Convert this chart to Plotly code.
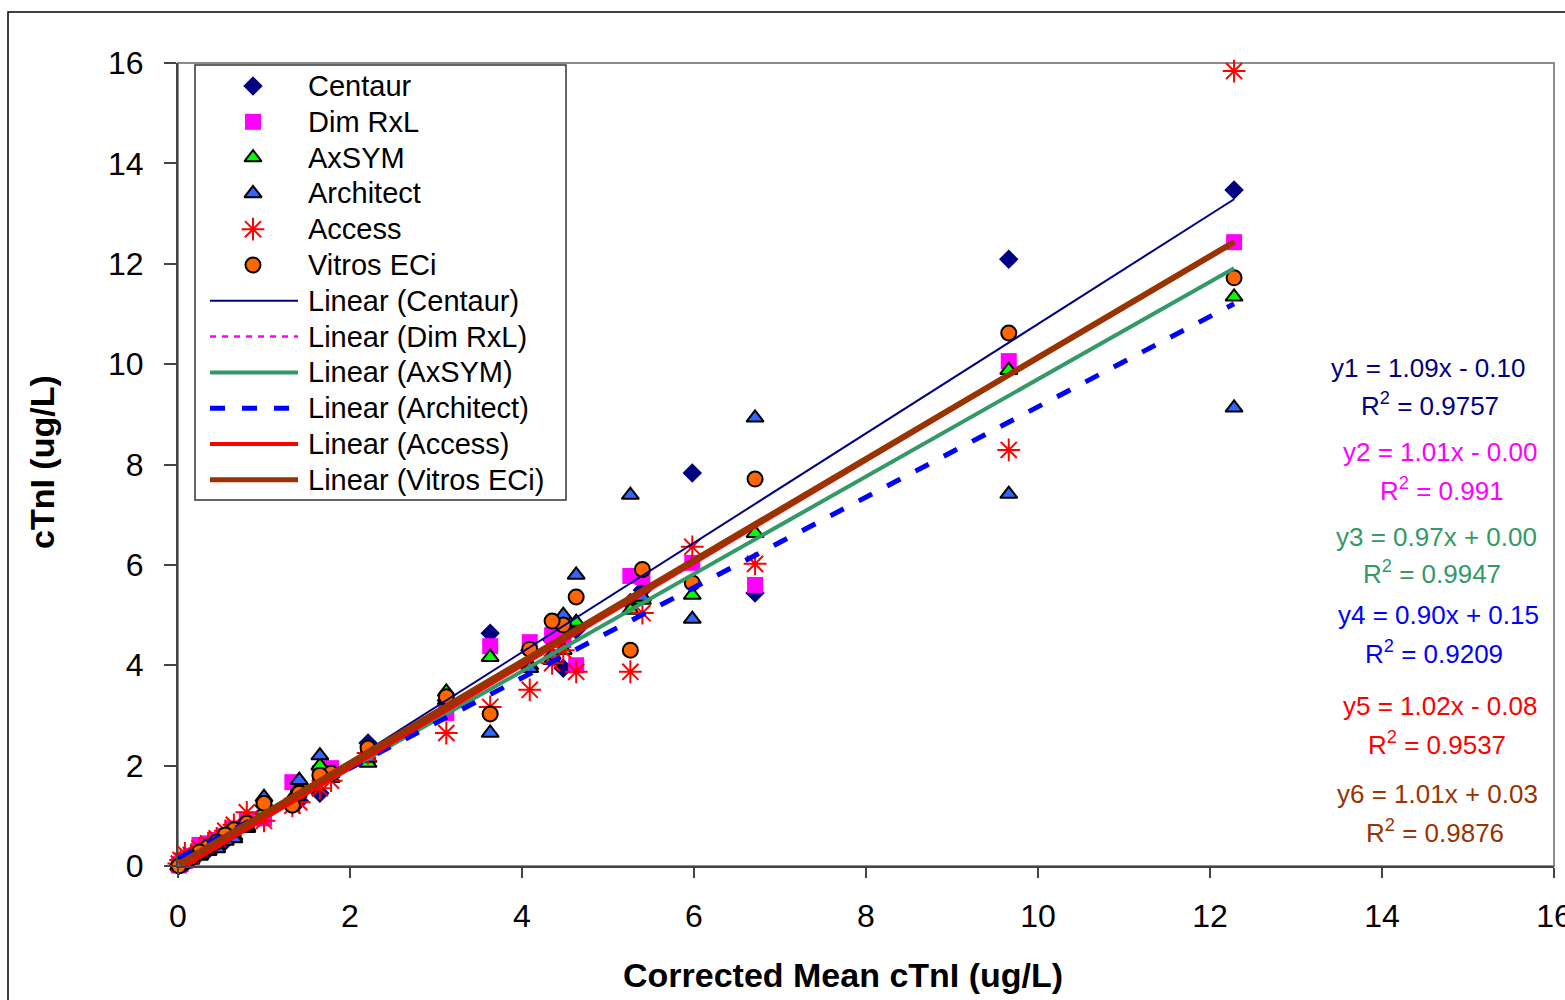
import math
import plotly.graph_objects as go

# ---------------- data ----------------
corrected_mean = [12.28, 9.66, 6.71, 5.98, 5.40, 5.26, 4.63, 4.48, 4.35, 4.09,
                  3.63, 3.12, 2.21, 1.78, 1.65, 1.41, 1.33, 1.00, 0.80, 0.65,
                  0.55, 0.45, 0.35, 0.25, 0.15, 0.08, 0.03, 0.01]

centaur   = [13.47, 12.09, 5.44, 7.83, 5.50, 5.25, 4.70, 3.94, 4.50, 4.30,
             4.64, 3.30, 2.45, 1.90, 1.45, 1.30, 1.25, 1.20, 0.85, 0.70,
             0.50, 0.45, 0.32, 0.25, 0.15, 0.10, 0.05, 0.02]
dim_rxl   = [12.43, 10.06, 5.60, 6.04, 5.76, 5.78, 4.00, 4.50, 4.60, 4.46,
             4.38, 3.05, 2.20, 1.95, 1.85, 1.50, 1.67, 0.95, 0.90, 0.75,
             0.60, 0.52, 0.45, 0.42, 0.20, 0.10, 0.04, 0.01]
axsym     = [11.34, 9.88, 6.63, 5.40, 5.30, 5.10, 4.86, 4.30, 4.10, 4.00,
             4.16, 3.47, 2.05, 1.85, 2.00, 1.55, 1.35, 1.10, 0.75, 0.60,
             0.55, 0.40, 0.30, 0.20, 0.12, 0.06, 0.02, 0.00]
architect = [9.13, 7.41, 8.93, 4.92, 5.36, 7.39, 5.80, 5.00, 4.20, 3.94,
             2.65, 3.30, 2.15, 1.75, 2.20, 1.71, 1.30, 1.37, 0.78, 0.55,
             0.50, 0.35, 0.30, 0.22, 0.15, 0.12, 0.05, 0.01]
access    = [15.84, 8.29, 6.02, 6.36, 5.04, 3.87, 3.87, 4.30, 4.04, 3.51,
             3.17, 2.65, 2.25, 1.70, 1.55, 1.27, 1.20, 0.90, 1.07, 0.82,
             0.70, 0.55, 0.45, 0.35, 0.22, 0.25, 0.12, 0.05]
vitros    = [11.72, 10.62, 7.71, 5.64, 5.91, 4.30, 5.36, 4.80, 4.88, 4.32,
             3.03, 3.37, 2.35, 1.85, 1.81, 1.45, 1.21, 1.25, 0.85, 0.72,
             0.62, 0.48, 0.38, 0.28, 0.16, 0.08, 0.02, 0.00]

series_names = ["Centaur", "Dim RxL", "AxSYM", "Architect", "Access", "Vitros ECi"]
series_values = [centaur, dim_rxl, axsym, architect, access, vitros]

# trendline equations as printed on the chart
slopes = [1.09, 1.01, 0.97, 0.90, 1.02, 1.01]
intercepts = [-0.10, -0.0, 0.0, 0.15, -0.08, 0.03]
r_squared = ["0.9757", "0.991", "0.9947", "0.9209", "0.9537", "0.9876"]

x_ticks = [0, 2, 4, 6, 8, 10, 12, 14, 16]
y_ticks = [0, 2, 4, 6, 8, 10, 12, 14, 16]

# ---------------- styles / layout ----------------
FONT = "Arial, 'Liberation Sans', sans-serif"
W, H = 1565, 1000
PL, PR, PT, PB = 178, 1554, 63, 866          # plot-area pixel edges
PW, PH = PR - PL, PB - PT

def u(px):   # pixel x -> paper x
    return (px - PL) / PW

def v(py):   # pixel y -> paper y
    return (PB - py) / PH

marker_styles = [
    dict(symbol="diamond", size=15, color="#000080", line=dict(width=0)),
    dict(symbol="square", size=16, color="#FF00FF", line=dict(width=0)),
    dict(symbol="triangle-up", size=15, color="#00FF00", line=dict(width=2, color="black")),
    dict(symbol="triangle-up", size=15, color="#3366FF", line=dict(width=2, color="black")),
    dict(symbol="asterisk-open", size=19, color="#FF0000", line=dict(width=2, color="#FF0000")),
    dict(symbol="circle", size=15, color="#FF6600", line=dict(width=2, color="black")),
]
line_styles = [
    dict(color="#000080", width=2, dash="solid"),
    dict(color="#FF00FF", width=2.5, dash="6px,6px"),
    dict(color="#339966", width=4, dash="solid"),
    dict(color="#0000FF", width=5, dash="15px,17px"),
    dict(color="#FF0000", width=4, dash="solid"),
    dict(color="#993300", width=6, dash="solid"),
]
eq_colors = ["#000080", "#FF00FF", "#339966", "#0000FF", "#FF0000", "#993300"]
eq_pos = [(14.53, 9.92, 14.56, 9.20), (14.67, 8.25, 14.70, 7.51),
          (14.63, 6.55, 14.58, 5.84), (14.66, 5.00, 14.60, 4.26),
          (14.67, 3.19, 14.64, 2.45), (14.64, 1.43, 14.62, 0.68)]

fig = go.Figure()

# data markers
for name, vals, ms in zip(series_names, series_values, marker_styles):
    fig.add_trace(go.Scatter(x=corrected_mean, y=vals, mode="markers", name=name,
                             marker=ms, cliponaxis=False, showlegend=False))

# linear trendlines over the data range
xmin, xmax = min(corrected_mean), max(corrected_mean)
for name, m, b, ls in zip(series_names, slopes, intercepts, line_styles):
    xs = [xmin, xmax]
    fig.add_trace(go.Scatter(x=xs, y=[m * val + b for val in xs], mode="lines",
                             name=f"Linear ({name})", line=ls, cliponaxis=False,
                             showlegend=False))

# ---------------- legend (drawn as a key box like the original) ----------------
LEG_L, LEG_R, LEG_T, LEG_B = 195, 566, 65, 500
ROW0, ROW_H = 86, 35.8
SYM_X, LINE_X0, LINE_X1, TEXT_X = 253, 210, 298, 306
legend_labels = series_names + [f"Linear ({n})" for n in series_names]

shapes = [
    # plot-area border (top/right light gray)
    dict(type="rect", xref="paper", yref="paper", x0=0, x1=1, y0=0, y1=1,
         line=dict(color="#8c8c8c", width=2), layer="below"),
    # outer chart frame
    dict(type="rect", xref="paper", yref="paper",
         x0=u(8), x1=u(1580), y0=v(1015), y1=v(12),
         line=dict(color="black", width=1.5), layer="below"),
    # legend box
    dict(type="rect", xref="paper", yref="paper",
         x0=u(LEG_L), x1=u(LEG_R), y0=v(LEG_B), y1=v(LEG_T),
         line=dict(color="#333333", width=1.5), fillcolor="white", layer="below"),
]
for i, ls in enumerate(line_styles):
    ry = v(ROW0 + ROW_H * (6 + i))
    shapes.append(dict(type="line", xref="paper", yref="paper",
                       x0=u(LINE_X0), x1=u(LINE_X1), y0=ry, y1=ry,
                       line=dict(color=ls["color"], width=min(ls["width"], 5),
                                 dash=ls["dash"])))

for i, ms in enumerate(marker_styles):
    fig.add_trace(go.Scatter(x=[u(SYM_X)], y=[v(ROW0 + ROW_H * i)], mode="markers",
                             marker=ms, xaxis="x2", yaxis="y2", showlegend=False,
                             hoverinfo="skip", cliponaxis=False))

annotations = []
for i, lab in enumerate(legend_labels):
    annotations.append(dict(x=u(TEXT_X), y=v(ROW0 + ROW_H * i), xref="paper", yref="paper",
                            text=lab, showarrow=False, xanchor="left", yanchor="middle",
                            font=dict(family=FONT, size=29, color="black")))

# trendline equations
for i, (m, b, r2, col, pos) in enumerate(zip(slopes, intercepts, r_squared, eq_colors, eq_pos)):
    sign = "-" if math.copysign(1, b) < 0 else "+"
    annotations.append(dict(x=pos[0], y=pos[1], xref="x", yref="y", showarrow=False,
                            text=f"y{i+1} = {m:.2f}x {sign} {abs(b):.2f}",
                            font=dict(family=FONT, size=26, color=col),
                            xanchor="center", yanchor="middle"))
    annotations.append(dict(x=pos[2], y=pos[3], xref="x", yref="y", showarrow=False,
                            text=f"R<sup>2</sup> = {r2}",
                            font=dict(family=FONT, size=26, color=col),
                            xanchor="center", yanchor="middle"))

# axis titles
annotations.append(dict(x=u(843), y=v(975), xref="paper", yref="paper",
                        text="<b>Corrected Mean cTnI (ug/L)</b>", showarrow=False,
                        font=dict(family=FONT, size=34, color="black"),
                        xanchor="center", yanchor="middle"))
annotations.append(dict(x=u(42), y=v(462), xref="paper", yref="paper",
                        text="<b>cTnI (ug/L)</b>", showarrow=False, textangle=-90,
                        font=dict(family=FONT, size=34, color="black"),
                        xanchor="center", yanchor="middle"))

fig.update_layout(
    width=W, height=H,
    margin=dict(l=PL, r=W - PR, t=PT, b=H - PB, autoexpand=False),
    paper_bgcolor="white", plot_bgcolor="white",
    font=dict(family=FONT, color="black"),
    showlegend=False,
    annotations=annotations,
    shapes=shapes,
    xaxis2=dict(domain=[0, 1], range=[0, 1], overlaying="x", anchor="y2", visible=False,
                fixedrange=True, automargin=False),
    yaxis2=dict(domain=[0, 1], range=[0, 1], overlaying="y", anchor="x2", visible=False,
                fixedrange=True, automargin=False),
)
fig.update_layout(
    xaxis=dict(range=[0, 16], tickvals=x_ticks, ticktext=[str(t) for t in x_ticks],
               showgrid=False, zeroline=False, showline=True, linecolor="#444444",
               linewidth=2, ticks="outside", ticklen=10, tickwidth=1.5, tickcolor="#444444",
               tickfont=dict(family=FONT, size=32, color="black"), ticklabelstandoff=11,
               ticklabeloverflow="allow", automargin=False),
    yaxis=dict(range=[0, 16], tickvals=y_ticks, ticktext=[str(t) for t in y_ticks],
               showgrid=False, zeroline=False, showline=True, linecolor="#444444",
               linewidth=2, ticks="outside", ticklen=12, tickwidth=1.5, tickcolor="#444444",
               tickfont=dict(family=FONT, size=32, color="black"), ticklabelstandoff=14,
               ticklabeloverflow="allow", automargin=False),
)

fig.write_html("out.html")
